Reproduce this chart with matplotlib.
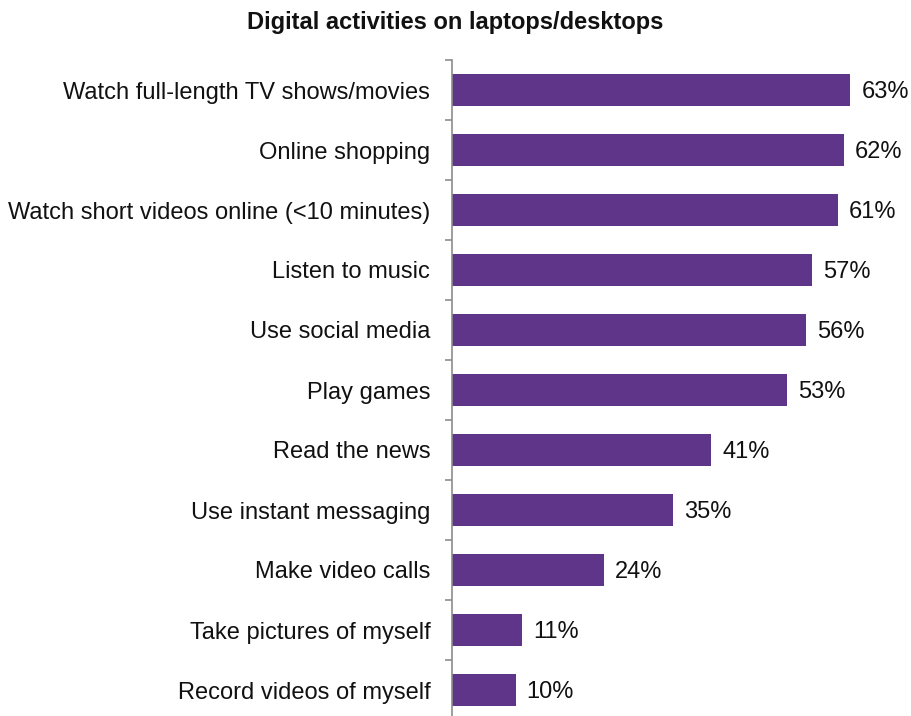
import numpy as np
import matplotlib
matplotlib.use("Agg")
import matplotlib.pyplot as plt

plt.rcParams['font.family'] = ['Liberation Sans', 'DejaVu Sans']

activities = [
    "Watch full-length TV shows/movies",
    "Online shopping",
    "Watch short videos online (<10 minutes)",
    "Listen to music",
    "Use social media",
    "Play games",
    "Read the news",
    "Use instant messaging",
    "Make video calls",
    "Take pictures of myself",
    "Record videos of myself",
]
shares = [63, 62, 61, 57, 56, 53, 41, 35, 24, 11, 10]

W, H = 912, 716
fig = plt.figure(figsize=(W / 100, H / 100), dpi=100)
ax = fig.add_axes([452.5 / W, -4 / H, 442 / W, 660 / H])

y = np.arange(len(activities))
ax.barh(y, shares, height=0.53, color="#5f3589", edgecolor="none")

for yi, v in zip(y, shares):
    ax.text(v + 1.75, yi + 0.03, f"{v}%", va="center", ha="left", fontsize=17, color="#111111")

ax.set_xlim(0, 70)
ax.set_ylim(len(activities) - 0.5, -0.5)
ax.set_yticks(y)
ax.set_yticklabels(activities, fontsize=17, color="#111111")
ax.tick_params(axis="y", which="major", length=0, pad=16)
ax.set_yticks(np.arange(-0.5, len(activities), 1), minor=True)
ax.tick_params(axis="y", which="minor", length=5, width=1.2, color="#8c8c8c", direction="out")
ax.set_xticks([])

for side in ("top", "right", "bottom"):
    ax.spines[side].set_visible(False)
ax.spines["left"].set_color("#8c8c8c")
ax.spines["left"].set_linewidth(1.2)

fig.text(455 / W, 1 - 22 / H, "Digital activities on laptops/desktops",
         ha="center", va="center", fontsize=17, fontweight="bold", color="#111111")

fig.savefig("out.png", dpi=100)
